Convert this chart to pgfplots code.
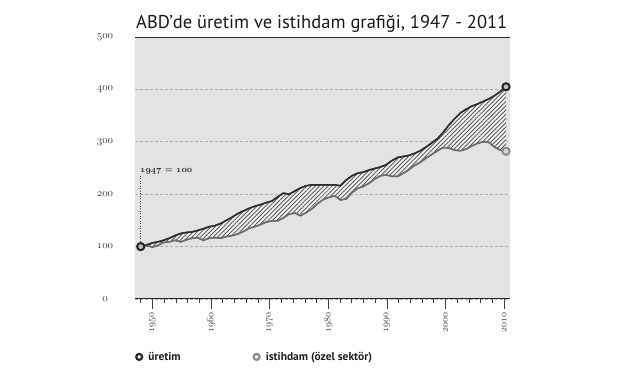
\documentclass[border=0pt]{standalone}
\usepackage{pgfplots}
\pgfplotsset{compat=1.18}
\usepackage{pgfplotstable}
\usepgfplotslibrary{fillbetween}
\usetikzlibrary{patterns.meta}
\usepackage{fontspec}
\newfontfamily\ptsans{PT Sans}
\newcommand\osn[1]{{\fontencoding{OML}\fontfamily{cmm}\fontseries{m}\fontshape{it}\selectfont #1}}
\newcommand\osnb[1]{{\fontencoding{OML}\fontfamily{cmm}\fontseries{b}\fontshape{it}\selectfont #1}}
\definecolor{bg}{HTML}{E3E3E3}
\definecolor{gridc}{HTML}{B0B0B0}
\definecolor{prodc}{HTML}{2E2E2E}
\definecolor{empc}{HTML}{6E6E6E}
\definecolor{hatchc}{HTML}{444444}
\definecolor{hatchbg}{HTML}{EFEFEF}
\definecolor{labc}{HTML}{3C3C3C}
\pgfplotstableread{
year prod emp
1947 100 100
1948 103 102
1949 107 99
1950 109 102
1951 112 108
1952 116 109
1953 121 112
1954 125 109
1955 127 113
1956 128 116
1957 131 117
1958 134 112
1959 138 116
1960 140 117
1961 144 116
1962 150 119
1963 156 121
1964 163 124
1965 168 129
1966 173 135
1967 177 138
1968 180 142
1969 184 147
1970 187 149
1971 195 149
1972 202 155
1973 200 162
1974 206 164
1975 212 159
1976 216 165
1977 218 172
1978 218 182
1979 218 190
1980 218 194
1981 218 197
1982 216 189
1983 227 191
1984 235 203
1985 240 211
1986 242 215
1987 246 221
1988 249 229
1989 252 235
1990 256 237
1991 264 234
1992 270 234
1993 272 240
1994 274 247
1995 278 255
1996 283 261
1997 290 269
1998 298 276
1999 306 283
2000 318 289
2001 332 288
2002 344 284
2003 355 283
2004 362 286
2005 368 292
2006 372 297
2007 377 300
2008 382 299
2009 388 290
2010 396 284
2011 405 282
}\data
\begin{document}
\begin{tikzpicture}
\node[anchor=base west, inner sep=0, font=\ptsans\fontsize{18.6}{22}\selectfont, text=black!90] at (136bp,345bp) {ABD’de üretim ve istihdam grafiği, 1947 - 2011};
\begin{axis}[
  at={(135bp,75bp)}, anchor=south west, scale only axis,
  width=375bp, height=262bp,
  xmin=1946, xmax=2011.7, ymin=0, ymax=500,
  axis background/.style={fill=bg},
  axis line style={draw=none},
  xtick={1949.080,1959.345,1969.611,1979.877,1990.142,2000.408,2010.673},
  xticklabels={\osn{1950},\osn{1960},\osn{1970},\osn{1980},\osn{1990},\osn{2000},\osn{2010}},
  minor xtick={1947.027,1949.080,...,2011},
  xtick pos=bottom, tick align=outside,
  major tick length=10bp, minor tick length=4.5bp,
  xtick style={draw=black!75, line width=0.8bp},
  minor tick style={draw=black!75, line width=0.8bp},
  xticklabel style={rotate=90, anchor=east, font=\fontsize{10}{12}\selectfont, text=labc},
  ytick={0,100,200,300,400,500},
  yticklabels={\osn{0},\osn{100},\osn{200},\osn{300},\osn{400},\osn{500}},
  ytick style={draw=none},
  yticklabel style={anchor=center, xshift=-20bp, font=\fontsize{10.5}{13}\selectfont, text=labc},
  ymajorgrids,
  major grid style={draw=gridc, dash pattern=on 2.5bp off 2.5bp, line width=0.8bp},
  legend columns=2,
  legend style={draw=none, fill=none, inner sep=0pt, outer sep=0pt,
    at={(0,-0.221)}, anchor=west, column sep=0pt,
    nodes={inner sep=0pt, outer sep=0pt},
    font=\ptsans\bfseries\fontsize{11.5}{13}\selectfont, text=black!88},
]
\addlegendimage{legend image code/.code={\path (0,0) (13bp,0); \draw[line width=2.2bp, draw=black!85, fill=white] (4bp,0) circle (3bp);}}
\addlegendentry{\makebox[104bp][l]{üretim}}
\addlegendimage{legend image code/.code={\path (0,0) (13bp,0); \draw[line width=2.2bp, draw=black!45, fill=white] (4bp,0) circle (3bp);}}
\addlegendentry{istihdam (özel sektör)}
\addplot[name path=prod, prodc, line width=1.5bp, forget plot] table[x=year,y=prod]{\data};
\addplot[name path=emp, empc, line width=1.5bp, forget plot] table[x=year,y=emp]{\data};
\addplot[fill=hatchbg, draw=none, forget plot] fill between[of=prod and emp];
\addplot[draw=none, pattern={Lines[angle=45,distance=3bp,line width=0.7bp]}, pattern color=hatchc, forget plot] fill between[of=prod and emp];
\addplot[empc, line width=1.5bp, forget plot] table[x=year,y=emp]{\data};
\addplot[prodc, line width=1.5bp, forget plot] table[x=year,y=prod]{\data};
\addplot[black!75, line width=0.9bp, dash pattern=on 0.9bp off 1.6bp, forget plot] coordinates {(1947,100) (1947,235)};
\node[anchor=base west, inner sep=0, text=black!82, font=\fontsize{8.7}{10}\selectfont\bfseries] at (axis cs:1946.88,240.5) {\osnb{1947} = \osnb{100}};
\draw[line width=2bp, black!85] (rel axis cs:0,0) -- (rel axis cs:1,0);
\draw[line width=2bp, black!85] (rel axis cs:0,1) -- (rel axis cs:1,1);
\addplot[only marks, mark=*, mark size=3.6bp, mark options={draw=black!45, fill=white!85!black, line width=2bp}, forget plot, clip=false] coordinates {(2011,282)};
\addplot[only marks, mark=*, mark size=3.6bp, mark options={draw=black!85, fill=white!75!black, line width=2bp}, forget plot, clip=false] coordinates {(1947,100) (2011,405)};
\end{axis}
\path (0,0) rectangle (640bp,374bp);
\end{tikzpicture}
\end{document}
